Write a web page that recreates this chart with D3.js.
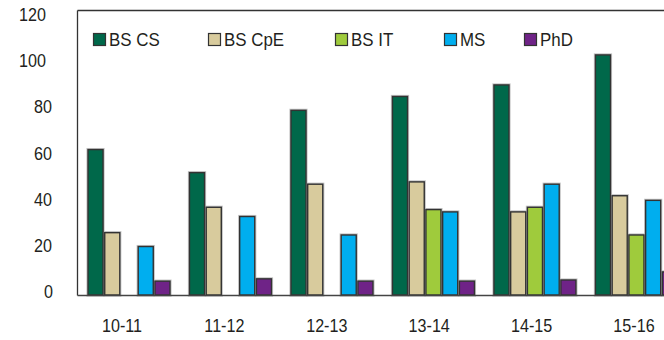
<!DOCTYPE html>
<html>
<head>
<meta charset="utf-8">
<script src="https://cdn.jsdelivr.net/npm/d3@7"></script>
<style>
  html, body { margin: 0; padding: 0; background: #fff; }
  svg { display: block; }
  text { font-family: "Liberation Sans", Arial, sans-serif; fill: #231f20; }
</style>
</head>
<body>
<div id="chart"></div>
<script>
const YEARS = ["10-11", "11-12", "12-13", "13-14", "14-15", "15-16"];
const SERIES = ["BS CS", "BS CpE", "BS IT", "MS", "PhD"];
const BS_CS  = [63, 53, 80, 86, 91, 104];
const BS_CPE = [27, 38, 48, 49, 36, 43];
const BS_IT  = [0, 0, 0, 37, 38, 26];
const MS     = [21, 34, 26, 36, 48, 41];
const PHD    = [6, 7, 6, 6, 6.5, 10];
const Y_TICKS = [0, 20, 40, 60, 80, 100, 120];

const COLORS = {
    "BS CS": "#00684a",
    "BS CpE": "#d8cb9d",
    "BS IT": "#9fcb3c",
    "MS": "#00aeef",
    "PhD": "#6f2387",
};

const VALUES = [BS_CS, BS_CPE, BS_IT, MS, PHD];
const rows = YEARS.map((year, i) => ({
    year,
    bars: SERIES.map((s, j) => ({ series: s, value: VALUES[j][i] })),
}));

const W = 664, H = 340;
// no condensed face installed, so squeeze the regular one
const NUM_SQUEEZE = 0.85;
const LEG_SQUEEZE = 0.89;

const svg = d3.select("#chart").append("svg")
    .attr("width", W)
    .attr("height", H);

const y = d3.scaleLinear().domain([0, 120]).range([295, 18]);

const x0 = d3.scaleBand()
    .domain(YEARS)
    .range([88, 680])
    .paddingInner(1 / 6)
    .paddingOuter(0);

const x1 = d3.scaleBand()
    .domain(SERIES)
    .range([0, 82])
    .paddingInner(0.1);

// label positions sit slightly apart from the bar groups in the original
const xLabel = d3.scalePoint().domain(YEARS).range([122, 634]);

// plot frame
svg.append("line")
    .attr("x1", 77.5).attr("x2", W).attr("y1", 10.5).attr("y2", 10.5)
    .attr("stroke", "#333").attr("stroke-width", 1.3);
svg.append("line")
    .attr("x1", 77.5).attr("x2", 77.5).attr("y1", 10.5).attr("y2", 295.5)
    .attr("stroke", "#333").attr("stroke-width", 1.3);

// bars
const groups = svg.selectAll(".grp")
    .data(rows)
    .enter().append("g")
    .attr("class", "grp")
    .attr("transform", d => `translate(${x0(d.year)},0)`);

const bars = groups.selectAll(".bar")
    .data(d => d.bars.filter(b => b.value > 0))
    .enter();

bars.append("rect")
    .attr("x", d => x1(d.series))
    .attr("y", d => y(d.value))
    .attr("width", x1.bandwidth())
    .attr("height", d => y(0) - y(d.value))
    .attr("fill", "none")
    .attr("stroke", "#c4c4c4")
    .attr("stroke-width", 3.2);

bars.append("rect")
    .attr("x", d => x1(d.series))
    .attr("y", d => y(d.value))
    .attr("width", x1.bandwidth())
    .attr("height", d => y(0) - y(d.value))
    .attr("fill", d => COLORS[d.series])
    .attr("stroke", "#333")
    .attr("stroke-width", 1.4);

// baseline
svg.append("line")
    .attr("x1", 77.5).attr("x2", W).attr("y1", 295.5).attr("y2", 295.5)
    .attr("stroke", "#444").attr("stroke-width", 1.3);

// y tick labels
const yRight = { 1: 53, 2: 52, 3: 46 };
svg.selectAll(".ytick")
    .data(Y_TICKS)
    .enter().append("text")
    .attr("class", "ytick")
    .attr("transform", d => `translate(${yRight[String(d).length]},${y(d) + 3}) scale(${NUM_SQUEEZE},1)`)
    .attr("text-anchor", "end")
    .style("font-size", "19px")
    .text(d => d);

// x labels
svg.selectAll(".xlab")
    .data(YEARS)
    .enter().append("text")
    .attr("class", "xlab")
    .attr("transform", d => `translate(${xLabel(d)},332) scale(${NUM_SQUEEZE},1)`)
    .attr("text-anchor", "middle")
    .style("font-size", "19px")
    .text(d => d);

// legend
const legendX = [93, 208, 335, 444, 524];
const legend = svg.selectAll(".leg")
    .data(SERIES)
    .enter().append("g")
    .attr("class", "leg")
    .attr("transform", (d, i) => `translate(${legendX[i]},33)`);

legend.append("rect")
    .attr("x", 0.5).attr("y", 0.5)
    .attr("width", 12).attr("height", 12)
    .attr("fill", d => COLORS[d])
    .attr("stroke", "#333")
    .attr("stroke-width", 1.2);

legend.append("text")
    .attr("transform", `translate(16,13) scale(${LEG_SQUEEZE},1)`)
    .style("font-size", "19px")
    .text(d => d);
</script>
</body>
</html>
